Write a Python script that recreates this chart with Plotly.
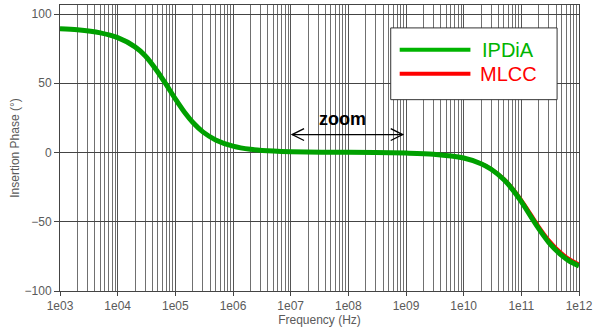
import plotly.graph_objects as go

freq = [1e3, 2e3, 5e3, 1e4, 2e4, 3e4, 5e4, 7e4, 1e5, 1.5e5, 2e5, 3e5, 5e5, 1e6, 2e6, 5e6,
        1e7, 1e8, 1e9, 3e9, 1e10, 2e10, 3e10, 5e10, 7e10, 1e11, 1.5e11, 2e11, 3e11, 5e11, 7e11, 1e12]
ipdia = [89.3, 88.6, 86.4, 82.9, 76.3, 69.9, 58.0, 48.8, 38.7, 28.1, 21.8, 14.9, 9.1, 4.6, 2.3, 1.0,
         0.5, 0.1, -0.4, -1.2, -4.0, -8.1, -12.1, -19.7, -26.6, -35.5, -47.0, -55.0, -65.0, -74.3, -78.7, -81.9]
mlcc = [89.3, 88.6, 86.4, 82.9, 76.3, 69.9, 58.0, 48.8, 38.7, 28.1, 21.8, 14.9, 9.1, 4.6, 2.3, 1.0,
        0.5, 0.1, -0.4, -1.1, -3.7, -7.6, -11.4, -18.6, -25.2, -33.6, -44.6, -52.6, -62.6, -72.2, -76.8, -80.2]
xtick_vals = [1e3, 1e4, 1e5, 1e6, 1e7, 1e8, 1e9, 1e10, 1e11, 1e12]
xtick_text = ["1e03", "1e04", "1e05", "1e06", "1e07", "1e08", "1e09", "1e10", "1e11", "1e12"]
ytick_vals = [-100, -50, 0, 50, 100]
series_names = ["IPDiA", "MLCC"]

GREEN = "#00b400"
RED = "#ff0000"
FONT = "Liberation Sans, Arial, sans-serif"
TXT = "#5a5a5a"

fig = go.Figure()
fig.add_trace(go.Scatter(x=freq, y=mlcc, mode="lines", name=series_names[1],
                         line=dict(color=RED, width=2.5, shape="spline", smoothing=0.8),
                         showlegend=False))
fig.add_trace(go.Scatter(x=freq, y=ipdia, mode="lines", name=series_names[0],
                         line=dict(color="#00a000", width=5, shape="spline", smoothing=0.8),
                         showlegend=False))

fig.update_layout(
    width=597, height=329,
    margin=dict(l=60, r=16, t=4, b=38),
    paper_bgcolor="white", plot_bgcolor="white",
    font=dict(family=FONT, size=12, color=TXT),
    xaxis=dict(type="log", range=[3, 12], tickvals=xtick_vals, ticktext=xtick_text,
               showgrid=True, gridcolor="#555555", gridwidth=1,
               minor=dict(dtick="D1", showgrid=True, gridcolor="#707070", gridwidth=1, ticks=""),
               ticks="outside", ticklen=4, tickcolor="#444444",
               showline=True, linecolor="#444444", mirror=True, zeroline=False,
               title=dict(text="Frequency (Hz)", font=dict(size=12, color=TXT), standoff=3),
               tickfont=dict(size=12, color=TXT)),
    yaxis=dict(range=[-100, 106.5], tickvals=ytick_vals,
               showgrid=True, gridcolor="#444444", gridwidth=1,
               ticks="outside", ticklen=5, tickcolor="#444444",
               showline=True, linecolor="#444444", mirror=True, zeroline=False,
               title=dict(text="Insertion Phase (°)", font=dict(size=12, color=TXT), standoff=2),
               tickfont=dict(size=12, color=TXT)),
)

# custom legend box
lx0, lx1 = (392 - 60) / 521, (559 - 60) / 521
ly0, ly1 = (291 - 99) / 287, (291 - 27) / 287
fig.add_shape(type="rect", xref="x domain", yref="y domain", x0=lx0, x1=lx1, y0=ly0, y1=ly1,
              fillcolor="white", line=dict(color="#333333", width=1), layer="above")
for i, (name, col) in enumerate(zip(series_names, [GREEN, RED])):
    ypix = 49 + 24 * i
    yd = (291 - ypix) / 287
    fig.add_shape(type="line", xref="x domain", yref="y domain",
                  x0=(401 - 60) / 521, x1=(472 - 60) / 521, y0=yd, y1=yd,
                  line=dict(color=col, width=4), layer="above")
    fig.add_annotation(xref="x domain", yref="y domain", x=(510 - 60) / 521, y=yd,
                       text=name, showarrow=False, xanchor="center", yanchor="middle",
                       font=dict(family=FONT, size=20, color=col))

# zoom arrow
ay = (291 - 134) / 287
xa, xb = (293 - 60) / 521, (404 - 60) / 521
dx, dy = 12 / 521, 6 / 287
fig.add_shape(type="line", xref="x domain", yref="y domain", x0=xa, x1=xb, y0=ay, y1=ay,
              line=dict(color="black", width=1.3), layer="above")
fig.add_shape(type="path", xref="x domain", yref="y domain",
              path=f"M{xa+dx},{ay+dy} L{xa},{ay} L{xa+dx},{ay-dy}",
              line=dict(color="black", width=1.3), layer="above")
fig.add_shape(type="path", xref="x domain", yref="y domain",
              path=f"M{xb-dx},{ay+dy} L{xb},{ay} L{xb-dx},{ay-dy}",
              line=dict(color="black", width=1.3), layer="above")
fig.add_annotation(xref="x domain", yref="y domain", x=(344 - 60) / 521, y=(291 - 118) / 287,
                   text="<b>zoom</b>", showarrow=False, xanchor="center", yanchor="middle",
                   font=dict(family=FONT, size=18, color="black"))

fig.write_html("out.html")
